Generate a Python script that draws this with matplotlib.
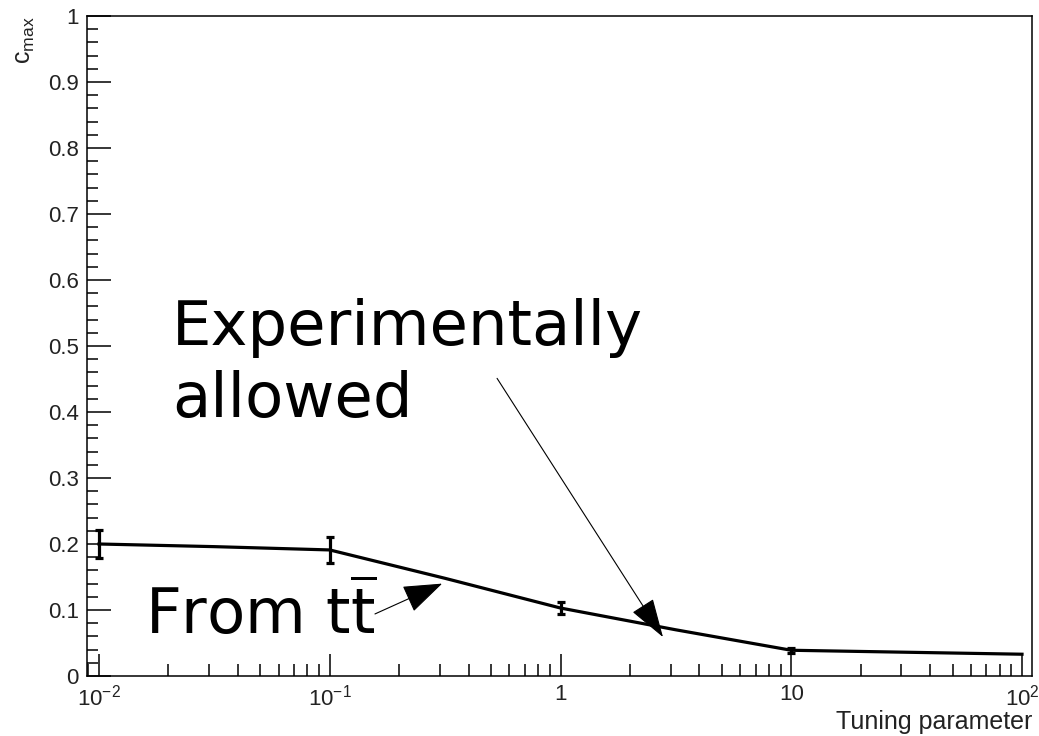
import numpy as np
import matplotlib.pyplot as plt
from matplotlib.ticker import FixedLocator, LogLocator, NullFormatter, MultipleLocator

# c_max versus tuning parameter
tuning = np.array([0.01, 0.0316, 0.1, 0.316, 1.0, 3.16, 10.0, 31.6, 100.0])
cmax = np.array([0.200, 0.196, 0.191, 0.148, 0.103, 0.070, 0.039, 0.036, 0.033])
cmax_err = np.array([0.021, 0.0, 0.020, 0.0, 0.009, 0.0, 0.004, 0.0, 0.0])

xticks = [0.01, 0.1, 1, 10, 100]
xtick_labels = [r'10$^{-2}$', r'10$^{-1}$', '1', '10', r'10$^{2}$']
yticks = [0, 0.1, 0.2, 0.3, 0.4, 0.5, 0.6, 0.7, 0.8, 0.9, 1.0]
ytick_labels = ['0', '0.1', '0.2', '0.3', '0.4', '0.5', '0.6', '0.7', '0.8', '0.9', '1']

plt.rcParams['font.family'] = ['Liberation Sans', 'DejaVu Sans']
plt.rcParams['mathtext.fontset'] = 'custom'
plt.rcParams['mathtext.rm'] = 'Liberation Sans'
plt.rcParams['mathtext.it'] = 'Liberation Sans:italic'

fig = plt.figure(figsize=(10.39, 7.36), dpi=100)
ax = fig.add_axes([87 / 1039, 1 - 676 / 736, 945 / 1039, 660 / 736])

# curve + error bars
ax.plot(tuning, cmax, color='black', lw=2.3, solid_joinstyle='miter')
m = cmax_err > 0
ax.errorbar(tuning[m], cmax[m], yerr=cmax_err[m], fmt='none', ecolor='black',
            elinewidth=2.3, capsize=2.8, capthick=2.3)

ax.set_xscale('log')
ax.set_xlim(10 ** -2.052, 10 ** 2.0433)
ax.set_ylim(0, 1)

ax.xaxis.set_major_locator(FixedLocator(xticks))
ax.set_xticklabels(xtick_labels)
ax.xaxis.set_minor_locator(LogLocator(base=10, subs=np.arange(2, 10)))
ax.xaxis.set_minor_formatter(NullFormatter())
ax.set_yticks(yticks)
ax.set_yticklabels(ytick_labels)
ax.yaxis.set_minor_locator(MultipleLocator(0.02))

ax.tick_params(which='both', direction='in', labelsize=16, top=False, right=False,
               labelcolor='#222222')
ax.tick_params(axis='x', which='major', length=16, width=1.1, pad=6)
ax.tick_params(axis='x', which='minor', length=8.5, width=1.1)
ax.tick_params(axis='y', which='major', length=17, width=1.1, pad=6)
ax.tick_params(axis='y', which='minor', length=8, width=1.1)
for s in ax.spines.values():
    s.set_linewidth(1.1)

# axis titles, ROOT style
ax.text(1.0, -0.052, 'Tuning parameter', transform=ax.transAxes,
        ha='right', va='top', fontsize=18, color='#222222')
ax.text(-0.066, 1.0, r'c$_{\rm max}$', transform=ax.transAxes,
        ha='center', va='top', rotation=90, fontsize=18, color='#222222')

# annotations
ax.annotate('', xy=(2.78, 0.059), xytext=(0.531, 0.451),
            arrowprops=dict(arrowstyle='-|>,head_length=1.25,head_width=0.4',
                            mutation_scale=20, lw=0.8, color='black',
                            shrinkA=0, shrinkB=0))
fig.text(172 / 1039, 1 - 345 / 736, 'Experimentally',
         fontsize=45, family='DejaVu Sans', ha='left', va='baseline')
fig.text(172 / 1039, 1 - 417 / 736, 'allowed',
         fontsize=45, family='DejaVu Sans', ha='left', va='baseline')

ax.annotate('', xy=(0.307, 0.140), xytext=(0.157, 0.094),
            arrowprops=dict(arrowstyle='-|>,head_length=1.25,head_width=0.45',
                            mutation_scale=20, lw=0.8, color='black',
                            shrinkA=0, shrinkB=0))
fig.text(145 / 1039, 1 - 634 / 736, r'From t$\overline{\mathrm{t}}$',
         fontsize=45, family='DejaVu Sans', math_fontfamily='dejavusans',
         ha='left', va='baseline')

fig.savefig('out.png', dpi=100)
